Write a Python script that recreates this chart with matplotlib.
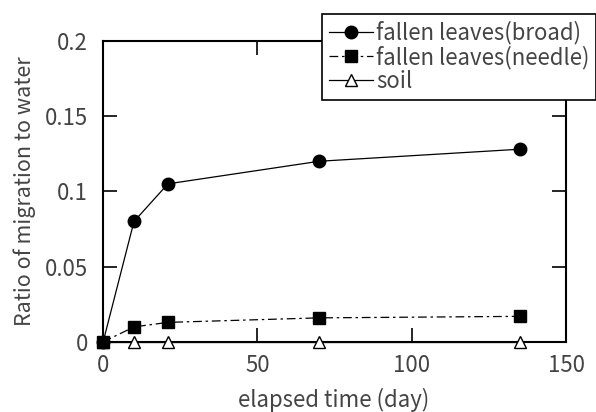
import matplotlib.pyplot as plt

# elapsed time (day) and ratio of migration to water
days = [0, 10, 21, 70, 135]
broad = [0, 0.080, 0.105, 0.120, 0.128]
needle = [0, 0.010, 0.013, 0.016, 0.017]
soil = [0, 0, 0, 0, 0]

plt.rcParams['font.family'] = ['Noto Sans CJK JP', 'DejaVu Sans']

fig = plt.figure(figsize=(5.96, 4.12), dpi=100)
ax = fig.add_axes([0.173, 0.170, 0.777, 0.731])

ax.plot(days, broad, color='black', lw=0.9, marker='o', ms=9,
        label='fallen leaves(broad)', clip_on=False, zorder=4)
ax.plot(days, needle, color='black', lw=0.9, dashes=(7, 3, 2, 3), marker='s', ms=9,
        label='fallen leaves(needle)', clip_on=False, zorder=4)
ax.plot(days, soil, color='black', lw=0.9, marker='^', ms=9, mfc='white',
        label='soil', clip_on=False, zorder=3)

ax.set_xlim(0, 150)
ax.set_ylim(0, 0.2)
ax.set_xticks([0, 50, 100, 150])
ax.set_yticks([0, 0.05, 0.1, 0.15, 0.2])
ax.set_xticklabels(['0', '50', '100', '150'])
ax.set_yticklabels(['0', '0.05', '0.1', '0.15', '0.2'])
ax.tick_params(direction='in', length=10, width=1.2, top=True, right=True,
               labelsize=16, labelcolor='#444444')
ax.tick_params(axis='y', pad=11)
ax.tick_params(axis='x', pad=9)
for s in ax.spines.values():
    s.set_linewidth(1.5)

ax.set_xlabel('elapsed time (day)', fontsize=16, color='#444444')
ax.xaxis.set_label_coords(0.497, -0.152)
ax.set_ylabel('Ratio of migration to water', fontsize=15.5, color='#444444')
ax.yaxis.set_label_coords(-0.145, 0.5)

leg = ax.legend(loc='upper left', bbox_to_anchor=(0.54, 0.966), bbox_transform=fig.transFigure,
                fontsize=16, frameon=True, fancybox=False, borderpad=0.3,
                labelspacing=0.05, handlelength=2.0, handletextpad=0.15,
                borderaxespad=0)
leg.get_frame().set_edgecolor('black')
leg.get_frame().set_linewidth(1.2)
leg.get_frame().set_alpha(1)
for t in leg.get_texts():
    t.set_color('#444444')

fig.savefig('out.png', dpi=100)
